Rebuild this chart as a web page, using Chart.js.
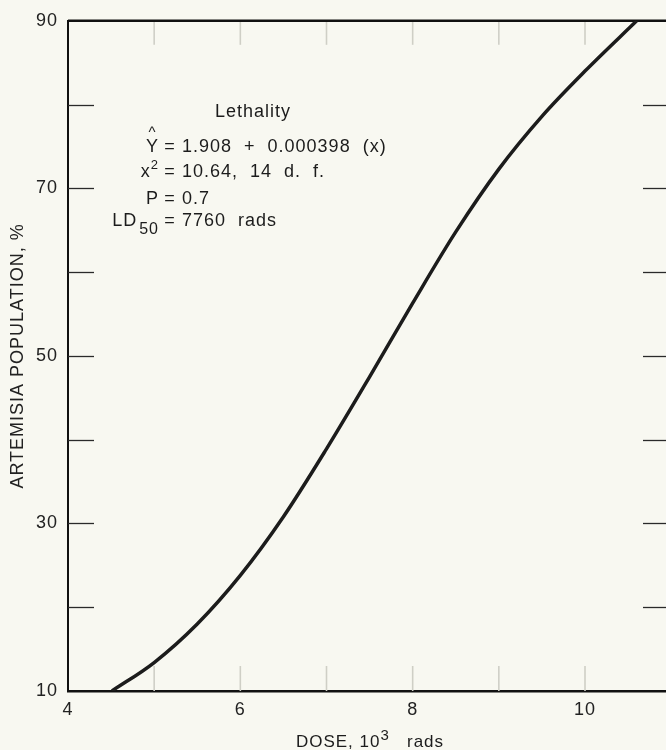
<!DOCTYPE html>
<html>
<head>
<meta charset="utf-8">
<script src="https://cdn.jsdelivr.net/npm/chart.js@4/dist/chart.umd.min.js"></script>
<style>
  html, body { margin: 0; padding: 0; background: #f8f8f1; }
  #wrap { width: 666px; height: 750px; }
</style>
</head>
<body>
<div id="wrap"><canvas id="c" width="666" height="750"></canvas></div>
<script>
// ---- data ----
const doseValues = [4.51, 5.0, 5.5, 6.0, 6.5, 7.0, 7.5, 8.0, 8.5, 9.0, 9.5, 10.0, 10.6];
const populationValues = [10.0, 13.4, 18.0, 23.8, 30.8, 38.9, 47.5, 56.3, 64.8, 72.3, 78.6, 84.0, 90.0];
const xTickValues = [4, 6, 8, 10];
const yTickValues = [10, 30, 50, 70, 90];
const xMinorTicks = [5, 6, 7, 8, 9, 10];
const yMinorTicks = [20, 30, 40, 50, 60, 70, 80];
const xAxisTitle = ['DOSE, 10', '3', '   rads'];
const yAxisTitle = 'ARTEMISIA POPULATION, %';
const noteTitle = 'Lethality';
const noteRows = [
  { lhs: 'Y', hat: true, rhs: '1.908  +  0.000398  (x)' },
  { lhs: 'x', sup: '2', rhs: '10.64,  14  d.  f.' },
  { lhs: 'P', rhs: '0.7' },
  { lhs: 'LD', sub: '50', rhs: '7760  rads' }
];

const FONT = '"Liberation Sans", Arial, Helvetica, sans-serif';
const INK = '#1c1c1c';
const BG = '#f8f8f1';

const framePlugin = {
  id: 'frame',
  beforeDraw(chart) {
    const { ctx, width, height } = chart;
    ctx.save();
    ctx.fillStyle = BG;
    ctx.fillRect(0, 0, width, height);
    ctx.restore();
    ctx.letterSpacing = '1px';
  },
  beforeDatasetsDraw(chart) {
    const { ctx, chartArea: ca } = chart;
    const xs = chart.scales.x, ys = chart.scales.y;
    const line = (x1, y1, x2, y2) => { ctx.beginPath(); ctx.moveTo(x1, y1); ctx.lineTo(x2, y2); ctx.stroke(); };
    ctx.save();
    ctx.strokeStyle = '#2a2a2a';
    ctx.lineWidth = 1.3;
    yMinorTicks.forEach(v => {
      const py = Math.round(ys.getPixelForValue(v)) + 0.5;
      line(ca.left, py, ca.left + 26, py);
      line(ca.right - 23, py, ca.right, py);
    });
    ctx.strokeStyle = '#cfcfc6';
    ctx.lineWidth = 1.6;
    xMinorTicks.forEach(v => {
      const px = xs.getPixelForValue(v);
      line(px, ca.top, px, ca.top + 24);
      line(px, ca.bottom - 25, px, ca.bottom);
    });
    ctx.strokeStyle = '#111';
    ctx.lineWidth = 2.5;
    line(ca.left, ca.top, ca.right, ca.top);
    ctx.restore();
  },
  afterDraw(chart) {
    const { ctx, chartArea: ca } = chart;
    ctx.save();
    ctx.letterSpacing = '1px';
    ctx.fillStyle = INK;
    ctx.textBaseline = 'alphabetic';
    const big = '18px ' + FONT, supF = '13px ' + FONT, subF = '16px ' + FONT;

    ctx.font = big;
    ctx.textAlign = 'center';
    ctx.fillText(noteTitle, ca.left + 185, ca.top + 96);
    const eqX = ca.left + 102;
    const baselines = [ca.top + 131, ca.top + 156, ca.top + 183, ca.top + 205];
    noteRows.forEach((r, i) => {
      const b = baselines[i];
      ctx.textAlign = 'left';
      ctx.font = big;
      const wMain = ctx.measureText(r.lhs).width;
      let wExtra = 0;
      if (r.sup) { ctx.font = supF; wExtra = ctx.measureText(r.sup).width; }
      if (r.sub) { ctx.font = subF; wExtra = ctx.measureText(r.sub).width + 2; }
      const start = eqX - 11 - wMain - wExtra;
      ctx.font = big;
      ctx.fillText(r.lhs, start, b);
      if (r.hat) {
        ctx.font = '15px ' + FONT;
        ctx.textAlign = 'center';
        ctx.fillText('^', start + wMain / 2, b - 15);
        ctx.textAlign = 'left';
      }
      if (r.sup) { ctx.font = supF; ctx.fillText(r.sup, start + wMain, b - 8); }
      if (r.sub) { ctx.font = subF; ctx.fillText(r.sub, start + wMain + 2, b + 8); }
      ctx.font = big;
      ctx.textAlign = 'center';
      ctx.fillText('=', eqX, b);
      ctx.textAlign = 'left';
      ctx.fillText(r.rhs, eqX + 12, b);
    });

    const f1 = '17px ' + FONT, f2 = '15px ' + FONT;
    ctx.font = f1; const w1 = ctx.measureText(xAxisTitle[0]).width;
    ctx.font = f2; const w2 = ctx.measureText(xAxisTitle[1]).width;
    ctx.font = f1; const w3 = ctx.measureText(xAxisTitle[2]).width;
    const total = w1 + w2 + w3;
    const sx = (ca.left + ca.right) / 2 + 3 - total / 2;
    const by = chart.height - 3;
    ctx.textAlign = 'left';
    ctx.font = f1; ctx.fillText(xAxisTitle[0], sx, by);
    ctx.font = f2; ctx.fillText(xAxisTitle[1], sx + w1, by - 7);
    ctx.font = f1; ctx.fillText(xAxisTitle[2], sx + w1 + w2, by);
    ctx.restore();
  }
};

new Chart(document.getElementById('c'), {
  type: 'scatter',
  data: {
    datasets: [{
      data: doseValues.map((x, i) => ({ x, y: populationValues[i] })),
      showLine: true,
      borderColor: INK,
      borderWidth: 3.5,
      pointRadius: 0,
      tension: 0.4,
      cubicInterpolationMode: 'monotone',
      fill: false
    }]
  },
  options: {
    responsive: false,
    animation: false,
    devicePixelRatio: 1,
    layout: { padding: { top: 17, right: 0, bottom: 0, left: 0 } },
    plugins: { legend: { display: false }, tooltip: { enabled: false } },
    scales: {
      x: {
        type: 'linear', min: 4, max: 10.94,
        grid: { display: false, drawTicks: false },
        border: { display: true, color: '#111', width: 2.5 },
        afterBuildTicks: s => { s.ticks = xTickValues.map(v => ({ value: v })); },
        afterFit: s => { s.height = 59; },
        ticks: { padding: 8, color: '#222', font: { family: FONT, size: 18 }, maxRotation: 0, autoSkip: false },
        title: { display: false }
      },
      y: {
        type: 'linear', min: 10, max: 90,
        grid: { display: false, drawTicks: false },
        border: { display: true, color: '#111', width: 2 },
        afterBuildTicks: s => { s.ticks = yTickValues.map(v => ({ value: v })); },
        afterFit: s => { s.width = 68; },
        ticks: { padding: 10, color: '#222', font: { family: FONT, size: 18 }, autoSkip: false },
        title: { display: true, text: yAxisTitle, color: '#222', font: { family: FONT, size: 18 }, padding: { top: 7, bottom: 0 } }
      }
    }
  },
  plugins: [framePlugin]
});
</script>
</body>
</html>
